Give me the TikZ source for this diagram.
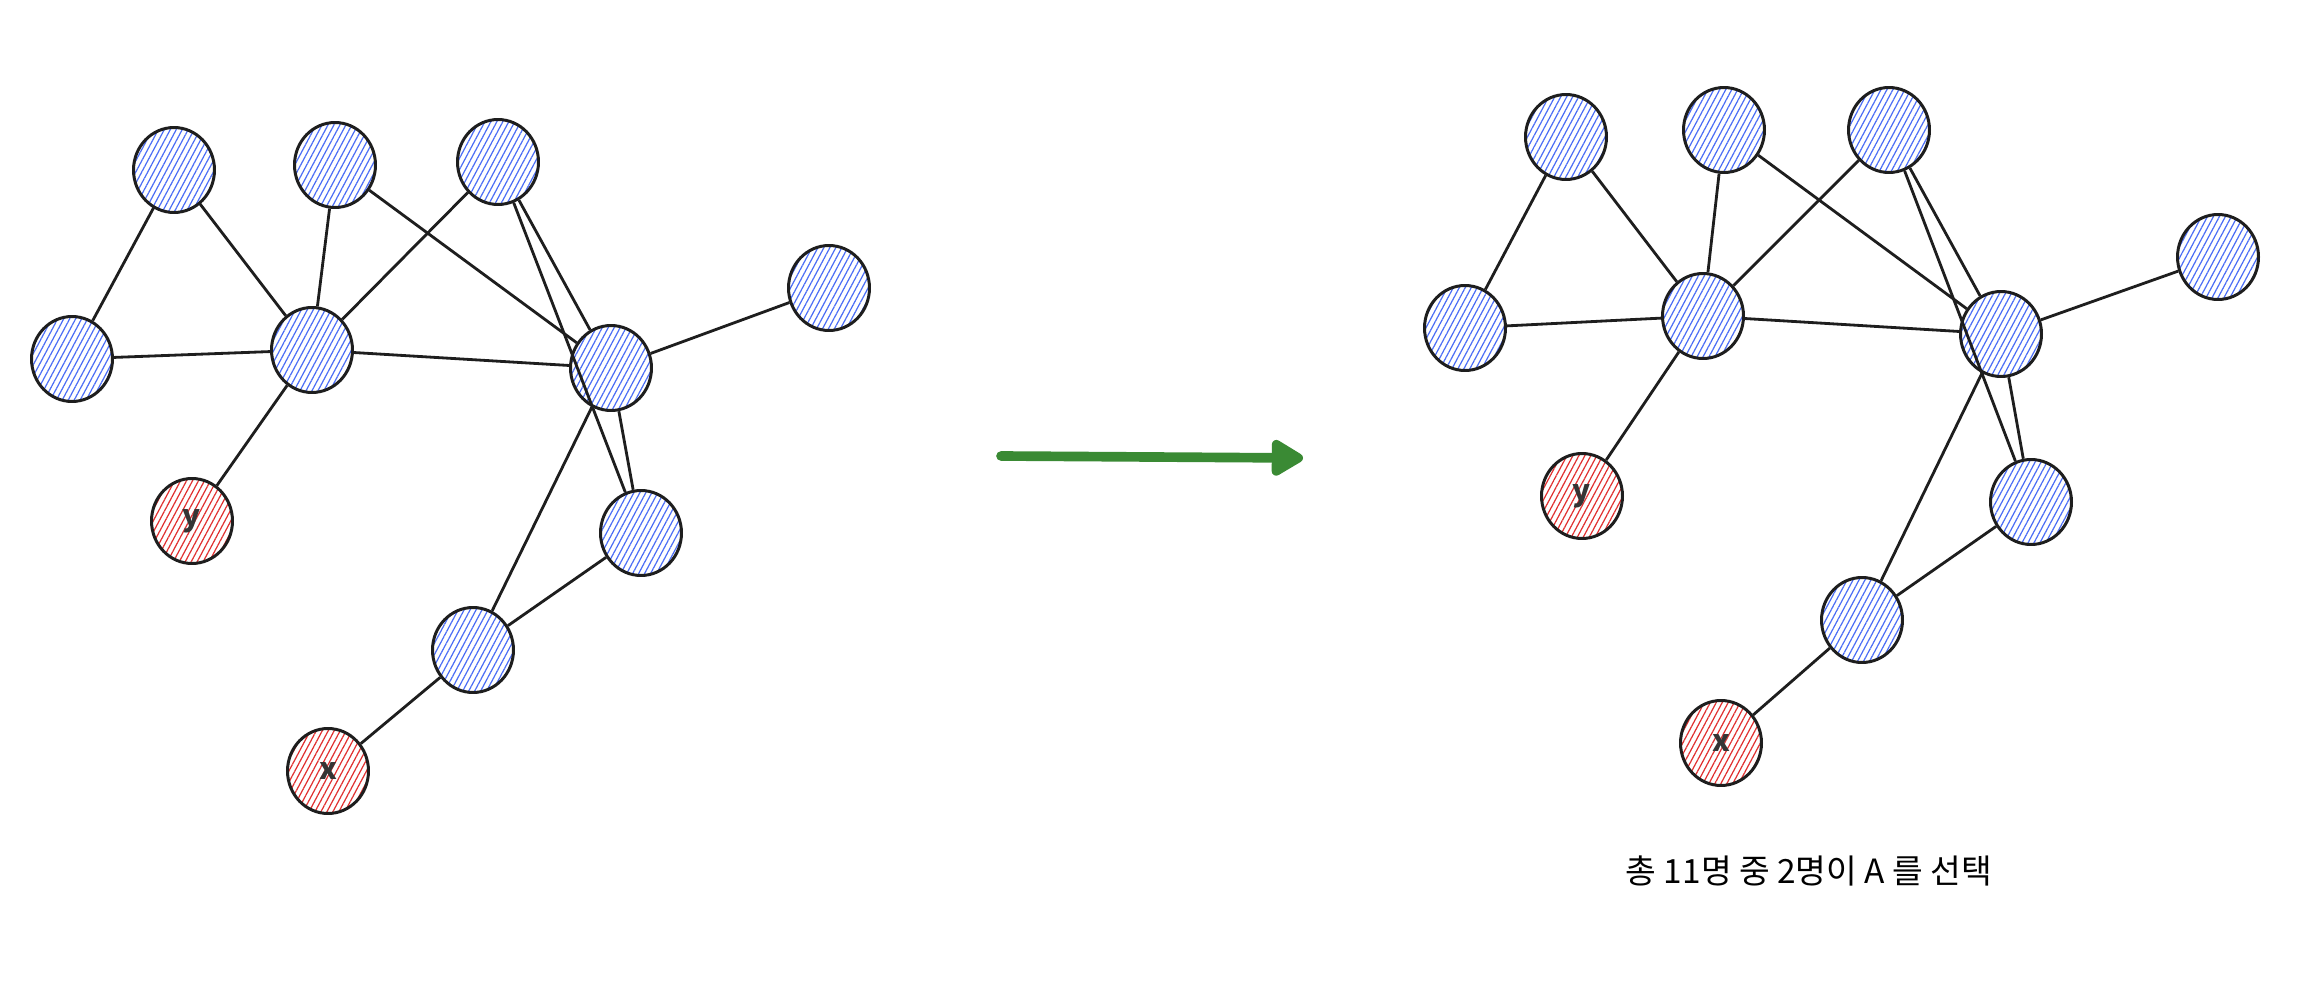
\documentclass[tikz,border=0pt]{standalone}
\usepackage{fontspec}
\setmainfont{Noto Sans CJK KR}
\usetikzlibrary{arrows.meta,patterns.meta,shapes.geometric}

\definecolor{inkline}{HTML}{1E1E1E}
\definecolor{hatchblue}{HTML}{4C6EF5}
\definecolor{hatchred}{HTML}{E03131}
\definecolor{arrowgreen}{HTML}{3A8A34}

\begin{document}
\begin{tikzpicture}[x=0.02cm,y=-0.02cm,
    person/.style={ellipse,draw=inkline,line width=1.7pt,minimum width=1.62cm,minimum height=1.7cm,inner sep=0pt,
        pattern={Lines[angle=62,distance=3pt,line width=0.7pt]},pattern color=hatchblue},
    chosen/.style={person,pattern color=hatchred,font=\fontsize{17}{19}\selectfont\bfseries,text=inkline!90},
    link/.style={draw=inkline,line width=1.6pt}]
    \useasboundingbox (0,0) rectangle (2316,1000);

    % before
    \node[person] (la) at (174,170) {};
    \node[person] (lb) at (335,165) {};
    \node[person] (lc) at (498,162) {};
    \node[person] (ld) at (72,359) {};
    \node[person] (le) at (312,350) {};
    \node[person] (lf) at (611,368) {};
    \node[person] (lg) at (829,288) {};
    \node[person] (lh) at (641,533) {};
    \node[person] (li) at (473,650) {};
    \node[chosen] (ly) at (192,521) {y};
    \node[chosen] (lx) at (328,771) {x};

    \draw[link] (la) -- (ld);
    \draw[link] (la) -- (le);
    \draw[link] (lb) -- (le);
    \draw[link] (lb) -- (lf);
    \draw[link] (lc) -- (le);
    \draw[link] (lc) -- (lf);
    \draw[link] (lc) -- (lh);
    \draw[link] (ld) -- (le);
    \draw[link] (le) -- (lf);
    \draw[link] (le) -- (ly);
    \draw[link] (lf) -- (lg);
    \draw[link] (lf) -- (lh);
    \draw[link] (lf) -- (li);
    \draw[link] (lh) -- (li);
    \draw[link] (li) -- (lx);

    % arrow
    \coordinate (from) at (1001,456);
    \coordinate (to) at (1303,458);
    \draw[arrowgreen,line width=5.5pt,line cap=round,
        -{Triangle[length=0.72cm,width=0.8cm,round]}] (from) -- (to);

    % after
    \node[person] (ra) at (1566,137) {};
    \node[person] (rb) at (1724,130) {};
    \node[person] (rc) at (1889,130) {};
    \node[person] (rd) at (1465,328) {};
    \node[person] (re) at (1703,316) {};
    \node[person] (rf) at (2001,334) {};
    \node[person] (rg) at (2218,257) {};
    \node[person] (rh) at (2031,502) {};
    \node[person] (ri) at (1862,620) {};
    \node[chosen] (ry) at (1582,496) {y};
    \node[chosen] (rx) at (1721,743) {x};

    \draw[link] (ra) -- (rd);
    \draw[link] (ra) -- (re);
    \draw[link] (rb) -- (re);
    \draw[link] (rb) -- (rf);
    \draw[link] (rc) -- (re);
    \draw[link] (rc) -- (rf);
    \draw[link] (rc) -- (rh);
    \draw[link] (rd) -- (re);
    \draw[link] (re) -- (rf);
    \draw[link] (re) -- (ry);
    \draw[link] (rf) -- (rg);
    \draw[link] (rf) -- (rh);
    \draw[link] (rf) -- (ri);
    \draw[link] (rh) -- (ri);
    \draw[link] (ri) -- (rx);

    \node[font=\fontsize{19}{22}\selectfont,text=black] (caption) at (1809,871) {총 11명 중 2명이 A 를 선택};
\end{tikzpicture}
\end{document}
